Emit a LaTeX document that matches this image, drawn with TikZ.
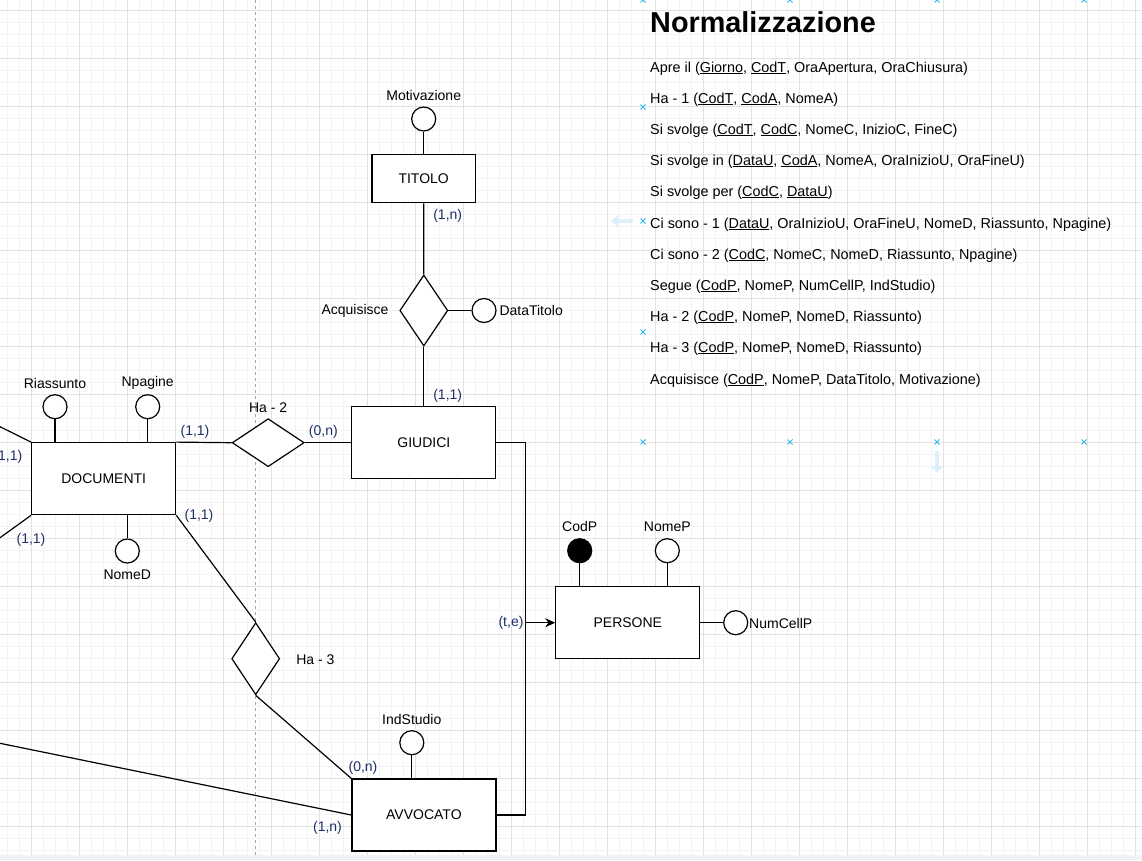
\documentclass[tikz,border=0pt]{standalone}
\usepackage{fontspec}
\setmainfont{Liberation Sans}
\usetikzlibrary{shapes.geometric,arrows.meta}

\definecolor{cardblue}{HTML}{1F2F6B}
\definecolor{gridfine}{HTML}{F3F3F3}
\definecolor{gridmajor}{HTML}{E2E2E2}
\definecolor{hintblue}{HTML}{29B6F2}
\definecolor{hintpale}{HTML}{DDF0FA}
\definecolor{footgray}{HTML}{F1F3F6}

\newcommand{\keyu}[1]{\underline{\smash{#1}}}

\tikzset{
  entity/.style={draw=black, line width=1.2pt, rectangle, minimum width=144pt,
    minimum height=72pt, inner sep=0pt, fill=white, font=\fontsize{14}{16}\selectfont},
  relation/.style={draw=black, line width=1.2pt, diamond, inner sep=0pt, fill=white},
  attrib/.style={draw=black, line width=1.2pt, circle, minimum size=24pt,
    inner sep=0pt, fill=white},
  keyattrib/.style={attrib, fill=black},
  lbl/.style={inner sep=0pt, font=\fontsize{14}{16}\selectfont},
  card/.style={lbl, text=cardblue},
  rowtext/.style={inner sep=0pt, anchor=base west, font=\fontsize{14.4}{17}\selectfont},
  link/.style={draw=black, line width=1.2pt},
  finegrid/.style={draw=gridfine, line width=1pt},
  majorgrid/.style={draw=gridmajor, line width=1pt},
  pagebreak/.style={draw=black!35, line width=0.8pt, dash pattern=on 3pt off 3pt},
  hint/.style={draw=hintblue, line width=1pt},
  hintarrow/.style={draw=hintpale, line width=4pt, -{Triangle[length=7pt,width=12pt]}},
}

\begin{document}
\begin{tikzpicture}[x=1pt,y=1pt]
\useasboundingbox (0,0) rectangle (1142,-860);
\clip (0,0) rectangle (1142,-860);

% canvas grid
\fill[white] (0,0) rectangle (1142,-860);
\foreach \i in {0,...,96} \draw[finegrid] ({-16.3+12*\i},0) -- ({-16.3+12*\i},-855);
\foreach \j in {0,...,71} \draw[finegrid] (0,{2-12*\j}) -- (1142,{2-12*\j});
\foreach \i in {0,...,24} \draw[majorgrid] ({-16.3+48*\i},0) -- ({-16.3+48*\i},-855);
\foreach \j in {0,...,18} \draw[majorgrid] (0,{38-48*\j}) -- (1142,{38-48*\j});
\fill[footgray] (0,-855) rectangle (1142,-860);
\draw[pagebreak] (255.7,0) -- (255.7,-855);

% editor hints
\foreach \hx/\hy in {643/-107, 643/-221, 643/-332, 643/-442, 790/-442, 937/-442,
  1084/-442, 643/0, 790/0, 937/0, 1084/0}
  \draw[hint] (\hx-2.5,\hy-2.5) -- (\hx+2.5,\hy+2.5) (\hx-2.5,\hy+2.5) -- (\hx+2.5,\hy-2.5);
\draw[hintarrow] (633,-221) -- (611,-221);
\draw[hintarrow] (937,-451) -- (937,-473);

% entities
\node[entity] (docu) at (103.7,-478.7) {DOCUMENTI};
\node[entity] (giud) at (423.8,-442.7) {GIUDICI};
\node[entity, minimum width=103.3pt, minimum height=48pt] (tit) at (423.7,-178.7) {TITOLO};
\node[entity] (avv) at (423.9,-815) {AVVOCATO};
\node[entity] (pers) at (627.8,-622.7) {PERSONE};

% relations
\node[relation, minimum width=72pt, minimum height=48pt] (ha2) at (268.2,-442.7) {};
\node[relation, minimum width=48pt, minimum height=72pt] (ha3) at (255.7,-658.7) {};
\node[relation, minimum width=48pt, minimum height=71pt] (acq) at (423.8,-310.5) {};
\node[lbl] (lha2) at (268.2,-407.3) {Ha - 2};
\node[lbl] (lha3) at (315.4,-659.3) {Ha - 3};
\node[lbl] (lacq) at (355,-310.7) {Acquisisce};

% attributes
\node[attrib] (riass) at (55,-406.7) {};
\node[attrib] (npag) at (147.7,-406.7) {};
\node[attrib] (nomed) at (127.3,-551) {};
\node[attrib] (motiv) at (423.7,-119) {};
\node[attrib] (datat) at (484,-310.5) {};
\node[keyattrib] (codp) at (579.7,-550.7) {};
\node[attrib] (nomep) at (667.3,-550.7) {};
\node[attrib] (numcell) at (735.7,-622.7) {};
\node[attrib] (indst) at (411.8,-742.7) {};
\node[lbl] (lriass) at (55,-383.3) {Riassunto};
\node[lbl] (lnpag) at (147.7,-383.3) {Npagine};
\node[lbl] (lnomed) at (127.3,-575) {NomeD};
\node[lbl] (lmotiv) at (423.7,-95) {Motivazione};
\node[lbl, anchor=west] (ldatat) at (499.3,-310.7) {DataTitolo};
\node[lbl] (lcodp) at (579.7,-526.7) {CodP};
\node[lbl] (lnomep) at (667.3,-526.7) {NomeP};
\node[lbl, anchor=west] (lnumcell) at (749,-623) {NumCellP};
\node[lbl] (lindst) at (411.8,-719) {IndStudio};

% attribute links
\draw[link] (riass) -- (riass |- docu.north);
\draw[link] (npag) -- (npag |- docu.north);
\draw[link] (nomed) -- (nomed |- docu.south);
\draw[link] (motiv) -- (tit.north);
\draw[link] (acq.east) -- (datat);
\draw[link] (codp) -- (codp |- pers.north);
\draw[link] (nomep) -- (nomep |- pers.north);
\draw[link] (pers.east) -- (numcell);
\draw[link] (indst) -- (indst |- avv.north);

% relation links
\draw[link] (docu.north east) -- (ha2.west);
\draw[link] (ha2.east) -- (giud.west);
\draw[link] (tit.south) -- (acq.north);
\draw[link] (acq.south) -- (giud.north);
\draw[link] (docu.south east) -- (ha3.north);
\draw[link] (ha3.south) -- (avv.north west);

% links leaving the canvas on the left
\coordinate (offa) at (0,-426.7);
\coordinate (offb) at (0,-537.7);
\coordinate (offc) at (0,-743.3);
\draw[link] (offa) -- (docu.north west);
\draw[link] (offb) -- (docu.south west);
\draw[link] (offc) -- (avv.west);

% generalisation
\coordinate (isa) at (525.7,-622.7);
\draw[link] (giud.east) -| (isa) |- (avv.east);
\draw[link, -{Stealth[length=10pt,width=9pt]}] (isa) -- (pers.west);

% cardinalities
\node[card] (c1) at (195,-432.3) {(1,1)};
\node[card] (c2) at (323.3,-432.3) {(0,n)};
\node[card] (c3) at (447.7,-216) {(1,n)};
\node[card] (c4) at (447.7,-396) {(1,1)};
\node[card] (c5) at (199,-515.7) {(1,1)};
\node[card] (c6) at (363,-767.7) {(0,n)};
\node[card] (c7) at (327.5,-827.7) {(1,n)};
\node[card] (c8) at (511,-623.3) {(t,e)};
\node[card] (c9) at (7.9,-456.7) {(1,1)};
\node[card] (c10) at (31,-540) {(1,1)};

% normalisation text
\node[rowtext, font=\fontsize{28.8}{34}\selectfont\bfseries] (ntitle) at (650,-32) {Normalizzazione};
\node[rowtext] (n1) at (650,-72) {Apre il (\keyu{Giorno}, \keyu{CodT}, OraApertura, OraChiusura)};
\node[rowtext] (n2) at (650,-103) {Ha - 1 (\keyu{CodT}, \keyu{CodA}, NomeA)};
\node[rowtext] (n3) at (650,-134) {Si svolge (\keyu{CodT}, \keyu{CodC}, NomeC, InizioC, FineC)};
\node[rowtext] (n4) at (650,-165) {Si svolge in (\keyu{DataU}, \keyu{CodA}, NomeA, OraInizioU, OraFineU)};
\node[rowtext] (n5) at (650,-196) {Si svolge per (\keyu{CodC}, \keyu{DataU})};
\node[rowtext] (n6) at (650,-228) {Ci sono - 1 (\keyu{DataU}, OraInizioU, OraFineU, NomeD, Riassunto, Npagine)};
\node[rowtext] (n7) at (650,-259) {Ci sono - 2 (\keyu{CodC}, NomeC, NomeD, Riassunto, Npagine)};
\node[rowtext] (n8) at (650,-290) {Segue (\keyu{CodP}, NomeP, NumCellP, IndStudio)};
\node[rowtext] (n9) at (650,-321) {Ha - 2 (\keyu{CodP}, NomeP, NomeD, Riassunto)};
\node[rowtext] (n10) at (650,-352) {Ha - 3 (\keyu{CodP}, NomeP, NomeD, Riassunto)};
\node[rowtext] (n11) at (650,-384) {Acquisisce (\keyu{CodP}, NomeP, DataTitolo, Motivazione)};
\end{tikzpicture}
\end{document}
